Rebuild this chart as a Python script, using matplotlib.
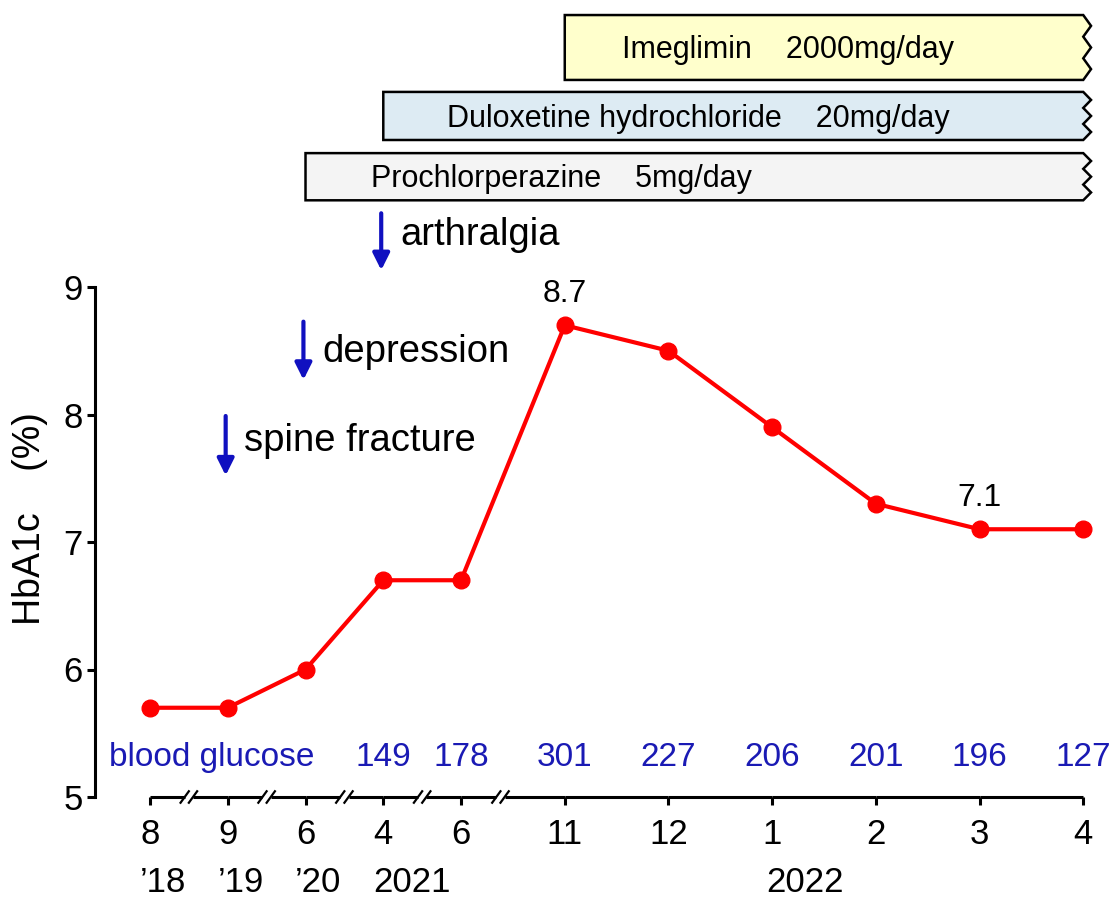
import matplotlib.pyplot as plt
from matplotlib.patches import Polygon

plt.rcParams['font.family'] = ['Liberation Sans', 'DejaVu Sans']

# data
months = ['8', '9', '6', '4', '6', '11', '12', '1', '2', '3', '4']
years = ['\u201918', '\u201919', '\u201920', '2021']
hba1c = [5.7, 5.7, 6.0, 6.7, 6.7, 8.7, 8.5, 7.9, 7.3, 7.1, 7.1]
glucose = ['149', '178', '301', '227', '206', '201', '196', '127']
drugs = ['Imeglimin    2000mg/day',
         'Duloxetine hydrochloride    20mg/day',
         'Prochlorperazine    5mg/day']
drug_start = [5, 3, 2]          # index of month when the drug started
events = ['arthralgia', 'depression', 'spine fracture']
event_at = [3, 2, 1]            # index of month of the event

# layout: compressed spacing for the early visits
steps = [0.75, 0.75, 0.75, 0.75, 1, 1, 1, 1, 1, 1]
xpos = [0.0]
for s in steps:
    xpos.append(xpos[-1] + s)

fig = plt.figure(figsize=(11.13, 8.98), dpi=100)
ax = fig.add_axes([95 / 1113, 101 / 898, 995 / 1113, 510 / 898])
ax.set_xlim(-0.53, 9.065)
ax.set_ylim(5, 9)

ax.plot(xpos, hba1c, color='#ff0000', lw=3, marker='o', ms=12, zorder=4, clip_on=False)
ax.text(xpos[5], 8.83, '8.7', ha='center', va='bottom', fontsize=23)
ax.text(xpos[9], 7.23, '7.1', ha='center', va='bottom', fontsize=23)

# blood glucose row
blue = '#1a1ab4'
ax.text(0.6, 5.31, 'blood glucose', color=blue, ha='center', va='center', fontsize=24)
for x, g in zip(xpos[3:], glucose):
    ax.text(x, 5.31, g, color=blue, ha='center', va='center', fontsize=24)

# axes style
for s in ['top', 'right', 'bottom']:
    ax.spines[s].set_visible(False)
ax.spines['left'].set_linewidth(2.2)
ax.set_yticks([5, 6, 7, 8, 9])
ax.tick_params(axis='y', direction='out', length=6, width=2.2, labelsize=25, pad=3)
ax.set_xticks(xpos)
ax.set_xticklabels(months)
ax.tick_params(axis='x', direction='out', length=6, width=2.2, labelsize=25, pad=9)
ax.set_ylabel('HbA1c    (%)', fontsize=27)
ax.yaxis.set_label_coords(-0.047, 0.545)

# x axis line with break marks
y0 = 5
gap = 0.04
for i in range(len(xpos) - 1):
    a, b = xpos[i], xpos[i + 1]
    if i < 5:
        m = (a + b) / 2 if i < 4 else a + 0.38
        ax.plot([a, m - gap], [y0, y0], color='black', lw=2.2, clip_on=False, solid_capstyle='butt')
        ax.plot([m + gap, b], [y0, y0], color='black', lw=2.2, clip_on=False, solid_capstyle='butt')
        for d in (-gap, gap):
            ax.plot([m + d - 0.04, m + d + 0.04], [y0 - 0.045, y0 + 0.045],
                    color='black', lw=1.6, clip_on=False)
    else:
        ax.plot([a, b], [y0, y0], color='black', lw=2.2, clip_on=False, solid_capstyle='butt')

# year row
for x, yr in zip(xpos[:4], years):
    ax.text(x - 0.1, 4.33, yr, ha='left', va='center', fontsize=25, clip_on=False)
ax.text(xpos[7] + 0.32, 4.33, '2022', ha='center', va='center', fontsize=25)

# drug bars with jagged right edge
bar_y = [(10.624, 11.133), (10.153, 10.53), (9.68, 10.05)]
bar_fc = ['#ffffcc', '#ddebf3', '#f4f4f4']
label_dx = [0.55, 0.61, 0.63]
xe = xpos[-1]
for name, st, (yb, yt), fc, dx0 in zip(drugs, drug_start, bar_y, bar_fc, label_dx):
    n = 6
    pts = [(xpos[st], yt), (xe, yt)]
    for k in range(1, n + 1):
        dx = 0.075 if k % 2 == 1 else 0.0
        pts.append((xe + dx, yt - (yt - yb) * k / n))
    pts.append((xe, yb))
    pts.append((xpos[st], yb))
    ax.add_patch(Polygon(pts, closed=True, fc=fc, ec='black', lw=1.8, clip_on=False))
    ax.text(xpos[st] + dx0, (yb + yt) / 2 - 0.02, name, ha='left', va='center', fontsize=22)

# event arrows
ev_y = [(9.6, 9.11), (8.75, 8.25), (8.01, 7.50)]
ev_text_y = [9.41, 8.49, 7.79]
for name, i, (ya, yb), ty in zip(events, event_at, ev_y, ev_text_y):
    x = xpos[i] - 0.02
    ax.annotate('', xy=(x, yb), xytext=(x, ya), annotation_clip=False,
                arrowprops=dict(arrowstyle='-|>,head_width=0.5,head_length=1.0',
                                color='#1010c0', lw=3))
    ax.text(x + 0.18, ty, name, ha='left', va='center', fontsize=27.5)

fig.savefig('out.png', dpi=100)
